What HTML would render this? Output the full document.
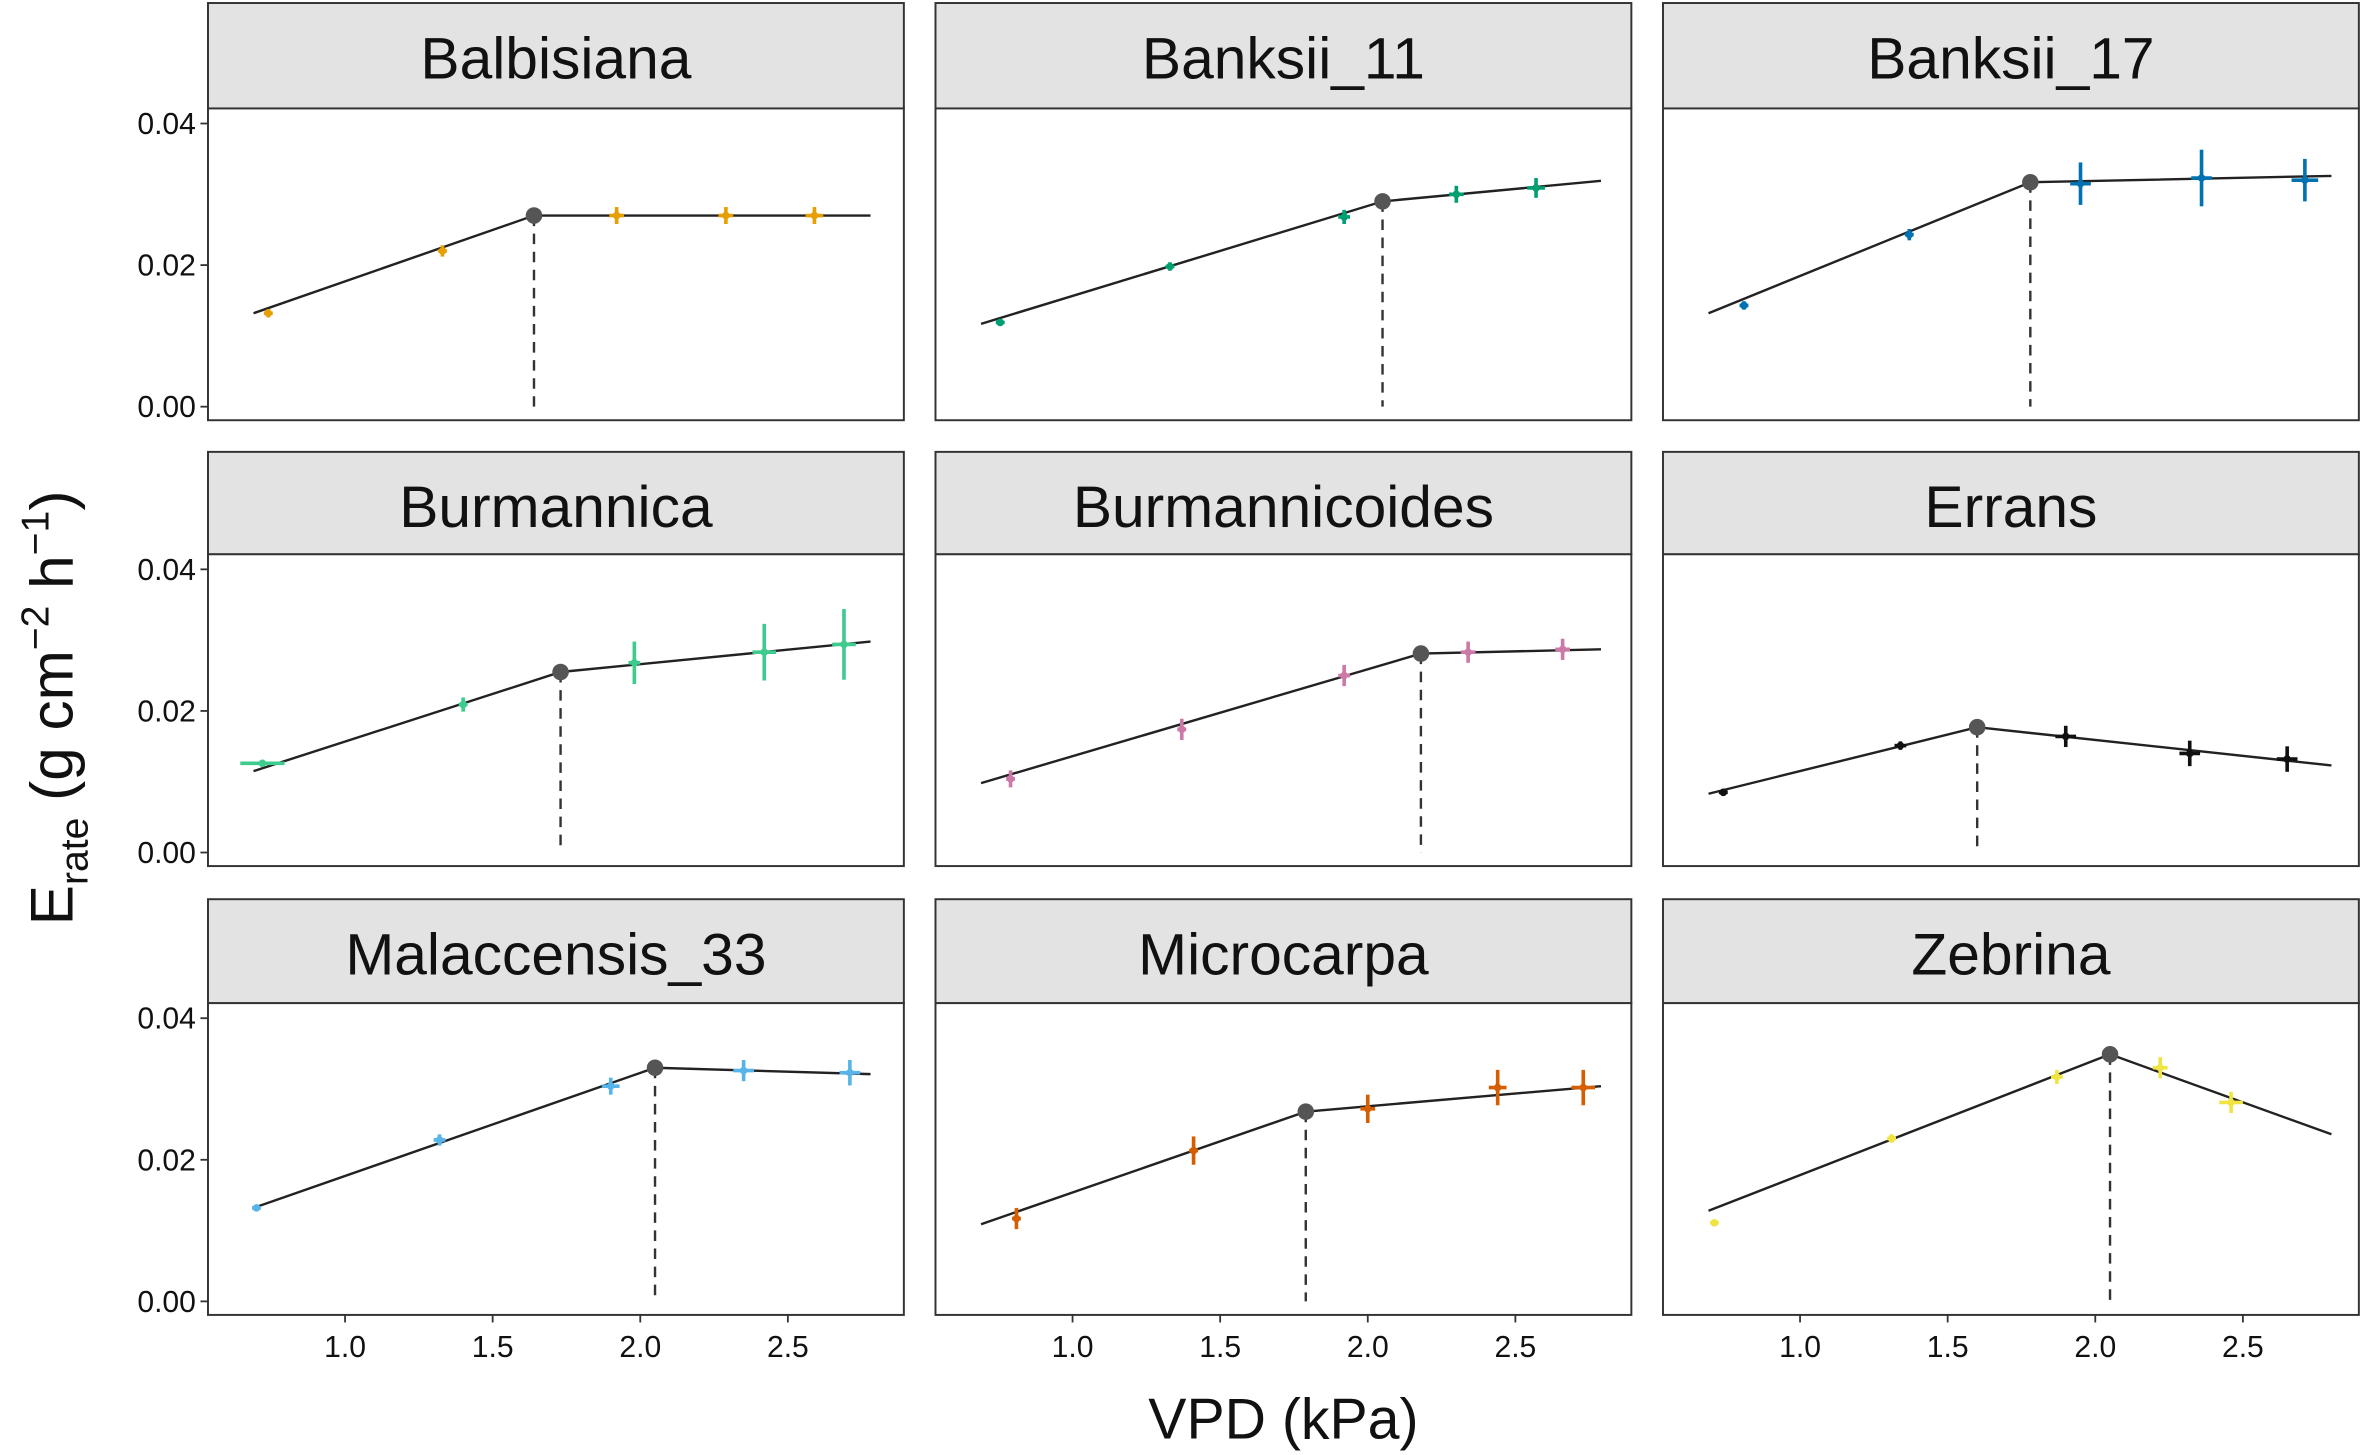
<!DOCTYPE html>
<html><head><meta charset="utf-8"><style>
html,body{margin:0;padding:0;background:#fff;}
svg{display:block;}
text{font-family:"Liberation Sans",Arial,sans-serif;}
</style></head><body>
<svg id="chart" width="2362" height="1455" viewBox="0 0 1568 966" xmlns="http://www.w3.org/2000/svg"></svg>
<script>
const panelNames=["Balbisiana","Banksii_11","Banksii_17","Burmannica","Burmannicoides","Errans","Malaccensis_33","Microcarpa","Zebrina"];
const colors=["#E69F00","#009E73","#0072B2","#3DCB8E","#CC79A7","#111111","#56B4E9","#D55E00","#F0E442"];
const lineStart=[[0.69,0.0132],[0.69,0.0117],[0.69,0.0132],[0.69,0.0115],[0.69,0.0098],[0.69,0.0083],[0.69,0.0132],[0.69,0.0109],[0.69,0.0128]];
const breakPts=[[1.64,0.0270],[2.05,0.0290],[1.78,0.0317],[1.73,0.0255],[2.18,0.0281],[1.60,0.0177],[2.05,0.0330],[1.79,0.0268],[2.05,0.0349]];
const lineEnd=[[2.78,0.0270],[2.79,0.0319],[2.80,0.0326],[2.78,0.0298],[2.79,0.0287],[2.80,0.0123],[2.78,0.0321],[2.79,0.0304],[2.80,0.0236]];
const ptX=[[0.74,1.33,1.92,2.29,2.59],[0.755,1.33,1.92,2.30,2.57],[0.81,1.37,1.95,2.36,2.71],[0.72,1.40,1.98,2.42,2.69],[0.79,1.37,1.92,2.34,2.66],[0.74,1.34,1.90,2.32,2.65],[0.70,1.32,1.90,2.35,2.71],[0.81,1.41,2.00,2.44,2.73],[0.71,1.31,1.87,2.22,2.46]];
const ptY=[[0.0132,0.0220,0.0270,0.0270,0.0270],[0.0119,0.0198,0.0268,0.0300,0.0309],[0.0143,0.0243,0.0315,0.0323,0.0320],[0.0126,0.0209,0.0268,0.0283,0.0294],[0.0104,0.0174,0.0250,0.0283,0.0287],[0.0085,0.0151,0.0164,0.0140,0.0132],[0.0132,0.0228,0.0304,0.0326,0.0323],[0.0117,0.0213,0.0272,0.0302,0.0302],[0.0111,0.0230,0.0317,0.0330,0.0281]];
const errY=[[0.0006,0.0008,0.0012,0.0012,0.0012],[0.0005,0.0006,0.0010,0.0012,0.0014],[0.0006,0.0008,0.0030,0.0040,0.0030],[0.0004,0.0010,0.0030,0.0040,0.0050],[0.0012,0.0015,0.0015,0.0015,0.0015],[0.0005,0.0006,0.0015,0.0018,0.0018],[0.0004,0.0008,0.0012,0.0015,0.0018],[0.0015,0.0020,0.0020,0.0025,0.0025],[0.0005,0.0006,0.0010,0.0015,0.0015]];
const errX=[[0.015,0.015,0.025,0.025,0.03],[0.015,0.015,0.02,0.025,0.03],[0.015,0.015,0.035,0.035,0.045],[0.075,0.015,0.02,0.04,0.04],[0.015,0.015,0.02,0.025,0.025],[0.015,0.02,0.035,0.035,0.035],[0.015,0.02,0.03,0.035,0.035],[0.015,0.015,0.025,0.03,0.04],[0.015,0.015,0.02,0.025,0.04]];
const yTicks=[0.00,0.02,0.04];
const yTickLabels=["0.00","0.02","0.04"];
const xTicks=[1.0,1.5,2.0,2.5];
const xTickLabels=["1.0","1.5","2.0","2.5"];

const svg=document.getElementById('chart');
const NS="http://www.w3.org/2000/svg";
function mk(tag,attrs,parent){const e=document.createElementNS(NS,tag);for(const k in attrs)e.setAttribute(k,attrs[k]);(parent||svg).appendChild(e);return e;}
const colLeft=[138,621,1104], colW=462;
const rowStripTop=[2,300,597], rowPanelTop=[72,368,666], panelH=207;
const yZeroOff=198, yPerUnit=4700;
const x1Off=91, xPerUnit=196;

for(let i=0;i<9;i++){
  const c=i%3,r=Math.floor(i/3);
  const L=colLeft[c], T=rowPanelTop[r];
  const sx=v=>L+x1Off+(v-1)*xPerUnit;
  const sy=v=>T+yZeroOff-v*yPerUnit;
  const g=mk('g',{});
  
  
  const strip=mk('rect',{x:L,y:rowStripTop[r],width:colW,height:T-rowStripTop[r],fill:'#e3e3e3',stroke:'#333','stroke-width':1.3},g);
  
  
  const st=mk('text',{x:L+colW/2,y:rowStripTop[r]+50,'text-anchor':'middle','font-size':39,fill:'#111'},g);
  st.textContent=panelNames[i];
  
  
  const fr=mk('rect',{x:L,y:T,width:colW,height:panelH,fill:'#fff',stroke:'#333','stroke-width':1.3},g);
  
  
  if(c===0){
    yTicks.forEach((t,k)=>{
      mk('line',{x1:L-5,x2:L,y1:sy(t),y2:sy(t),stroke:'#333','stroke-width':1.2},g);
      const tl=mk('text',{x:L-8,y:sy(t)+7,'text-anchor':'end','font-size':20,fill:'#111'},g);
      tl.textContent=yTickLabels[k];
      
      
    });
  }
  if(r===2){
    xTicks.forEach((t,k)=>{
      mk('line',{x1:sx(t),x2:sx(t),y1:T+panelH,y2:T+panelH+5,stroke:'#333','stroke-width':1.2},g);
      const tl=mk('text',{x:sx(t),y:T+panelH+28,'text-anchor':'middle','font-size':20,fill:'#111'},g);
      tl.textContent=xTickLabels[k];
      
      
    });
  }
  const b=breakPts[i];
  const dl=mk('line',{x1:sx(b[0]),x2:sx(b[0]),y1:sy(b[1]),y2:sy(0),stroke:'#333','stroke-width':1.6,'stroke-dasharray':'7,5'},g);
  
  
  const fit=mk('polyline',{points:[lineStart[i],b,lineEnd[i]].map(p=>sx(p[0])+','+sy(p[1])).join(' '),fill:'none',stroke:'#222','stroke-width':1.6},g);
  
  
  for(let k=0;k<ptX[i].length;k++){
    const px=sx(ptX[i][k]),py=sy(ptY[i][k]);
    const ey=errY[i][k]*yPerUnit, ex=errX[i][k]*xPerUnit;
    const pg=mk('g',{stroke:colors[i],'stroke-width':2.4},g);
    
    
    mk('line',{x1:px,x2:px,y1:py-ey,y2:py+ey},pg);
    mk('line',{x1:px-ex,x2:px+ex,y1:py,y2:py},pg);
    mk('circle',{cx:px,cy:py,r:2.5,fill:colors[i],stroke:'none'},pg);
  }
  const bp=mk('circle',{cx:sx(b[0]),cy:sy(b[1]),r:5.5,fill:'#555'},g);
  
  
}
const xt=mk('text',{x:852,y:955,'text-anchor':'middle','font-size':38,fill:'#111'});
xt.textContent='VPD (kPa)';


const yt=mk('text',{transform:'translate(48,470) rotate(-90)','text-anchor':'middle','font-size':40,fill:'#111'});


yt.innerHTML='E<tspan font-size="26" dy="10">rate</tspan><tspan dy="-10"> (g cm</tspan><tspan font-size="26" dy="-16">−2</tspan><tspan dy="16"> h</tspan><tspan font-size="26" dy="-16">−1</tspan><tspan dy="16">)</tspan>';
</script>
</body></html>
